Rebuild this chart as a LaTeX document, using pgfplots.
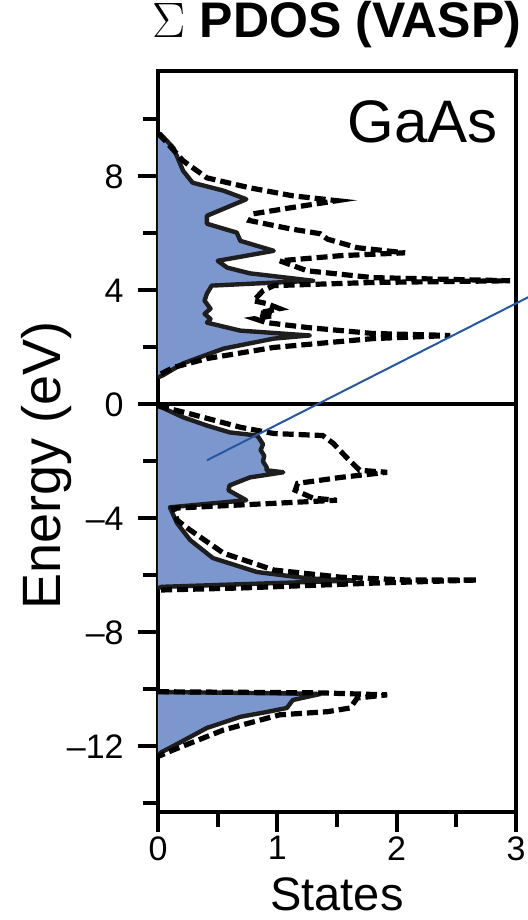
\documentclass[border=0pt]{standalone}
\usepackage{pgfplots}
\pgfplotsset{compat=1.18}
\usepackage{fontspec}
\setmainfont{Liberation Sans}
\definecolor{dosblue}{RGB}{124,151,206}
\definecolor{arrowblue}{RGB}{36,88,160}
\definecolor{outline}{RGB}{30,30,30}
\begin{document}
\begin{tikzpicture}
\begin{axis}[
  name=ax,
  scale only axis,
  width=179pt, height=370.5pt,
  xmin=0, xmax=3, ymin=-14.3, ymax=11.7,
  clip=false,
  axis line style={line width=2pt},
  xtick={0,1,2,3}, minor xtick={0.5,1.5,2.5},
  ytick={-12,-8,-4,0,4,8}, minor ytick={-14,-10,-6,-2,2,6,10},
  yticklabels={–12,–8,–4,0,4,8},
  xticklabels={0,1,2,3},
  tick align=outside,
  xtick pos=bottom, ytick pos=left,
  major tick length=10pt, minor tick length=7.5pt,
  every tick/.style={line width=2pt, black},
  every minor tick/.style={line width=2pt, black},
  tick label style={font=\fontsize{17}{20}\selectfont},
  xticklabel style={anchor=north, inner sep=0pt, yshift=-2pt},
  yticklabel style={anchor=east, inner sep=0pt, xshift=-7pt},
  xlabel={States},
  ylabel={Energy (eV)},
  xlabel style={at={(axis description cs:0.5,-0.1323)}, anchor=base, inner sep=0pt, font=\fontsize{23.5}{28}\selectfont},
  ylabel style={at={(axis description cs:-0.2737,0.468)}, anchor=base, inner sep=0pt, font=\fontsize{27}{32}\selectfont},
  title={$\Sigma$ \textbf{PDOS (VASP)}},
  title style={at={(axis description cs:0.5,1)}, anchor=base, yshift=10.5pt, inner sep=0pt, font=\fontsize{25}{30}\selectfont},
]
% conduction band total (filled)
\addplot[fill=dosblue, draw=outline, line width=2.2pt, line join=round] coordinates {
(0,9.5) (0.02,9.49) (0.13,9.0) (0.21,8.2) (0.29,7.78) (0.55,7.5) (0.74,7.2) (0.41,6.62) (0.41,6.34) (0.66,6.03) (0.69,5.74) (0.97,5.39) (0.50,5.04) (0.58,4.8) (0.77,4.6) (1.30,4.34) (0.45,4.17) (0.41,3.89) (0.39,3.64) (0.44,3.36) (0.39,3.18) (0.44,3.0) (0.41,2.87) (0.69,2.59) (1.27,2.42) (0.97,2.31) (0.55,1.96) (0.21,1.44) (0.04,1.02) (0,0.95)
};
% valence band total (filled)
\addplot[fill=dosblue, draw=outline, line width=2.2pt, line join=round] coordinates {
(0,-0.05) (0.03,-0.1) (0.21,-0.45) (0.41,-0.74) (0.60,-0.98) (0.83,-1.09) (0.85,-1.2) (0.88,-1.4) (0.86,-1.6) (0.89,-1.8) (0.88,-2.0) (0.91,-2.2) (0.91,-2.31) (1.05,-2.38) (0.77,-2.56) (0.60,-2.84) (0.59,-3.01) (0.74,-3.36) (0.10,-3.61) (0.16,-4.17) (0.27,-4.76) (0.46,-5.39) (0.83,-5.88) (1.25,-6.10) (1.64,-6.18) (0.97,-6.27) (0.03,-6.4) (0,-6.45)
};
% lower band total (filled)
\addplot[fill=dosblue, draw=outline, line width=2.2pt, line join=round] coordinates {
(0,-10.08) (0.03,-10.09) (0.69,-10.12) (1.10,-10.14) (1.36,-10.16) (1.13,-10.37) (1.08,-10.65) (0.90,-10.8) (0.69,-10.96) (0.41,-11.35) (0.18,-11.87) (0.03,-12.2) (0,-12.3)
};
% dashed curves
\addplot[black, line width=2.6pt, dash pattern=on 5.5pt off 2.5pt] coordinates {
(0,9.5) (0.05,9.3) (0.21,8.55) (0.41,7.95) (0.77,7.6) (1.13,7.32) (1.50,7.15) (1.11,6.9) (0.80,6.69) (0.77,6.45) (1.11,6.16) (1.36,5.99) (1.42,5.8) (1.67,5.5) (2.07,5.32) (1.53,5.22) (1.02,5.04) (1.25,4.69) (1.80,4.45) (2.95,4.34) (1.80,4.28) (0.97,4.17) (0.88,3.99) (0.80,3.64) (0.91,3.54) (1.02,3.36) (0.85,3.22) (0.97,3.12) (0.81,3.01) (0.91,2.87) (1.25,2.70) (1.80,2.49) (2.45,2.42) (1.80,2.31) (0.97,2.0) (0.41,1.61) (0.13,1.30) (0,1.02)
};
\addplot[black, line width=2.6pt, dash pattern=on 5.5pt off 2.5pt] coordinates {
(0,-0.05) (0.27,-0.33) (0.69,-0.8) (0.97,-1.02) (1.38,-1.09) (1.47,-1.37) (1.58,-1.86) (1.69,-2.31) (1.92,-2.38) (1.53,-2.56) (1.17,-2.77) (1.15,-3.01) (1.30,-3.29) (1.50,-3.36) (0.97,-3.47) (0.13,-3.64) (0.16,-4.06) (0.27,-4.41) (0.55,-5.22) (0.97,-5.81) (1.53,-6.06) (2.09,-6.16) (2.68,-6.16) (1.80,-6.27) (0.69,-6.44) (0.03,-6.51) (0,-6.52)
};
\addplot[black, line width=2.6pt, dash pattern=on 5.5pt off 2.5pt] coordinates {
(0,-10.08) (0.69,-10.1) (1.36,-10.12) (1.92,-10.19) (1.67,-10.3) (1.61,-10.65) (1.42,-10.78) (1.02,-10.89) (0.55,-11.42) (0.13,-12.12) (0.03,-12.3) (0,-12.35)
};
% zero line
\addplot[black, line width=2pt] coordinates {(0,0) (3,0)};
% blue annotation line
\addplot[arrowblue, line width=1pt] coordinates {(0.41,-1.96) (3.12,3.8)};
\node[anchor=base east, inner sep=0pt, font=\fontsize{30}{36}\selectfont] at ([xshift=-9pt, yshift=-36pt]rel axis cs:1,1) {GaAs};
\end{axis}
\pgfresetboundingbox
\path ([xshift=-79pt,yshift=-54pt]ax.south west) rectangle ([xshift=185pt,yshift=406pt]ax.south west);
\end{tikzpicture}
\end{document}
